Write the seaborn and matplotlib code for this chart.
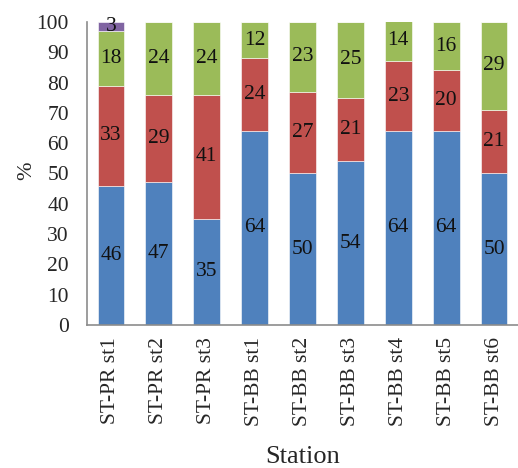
import numpy as np
import pandas as pd
import matplotlib
matplotlib.use("Agg")
import matplotlib.pyplot as plt
import seaborn as sns

# Percentage composition per sampling station
stations = ["ST-PR st1", "ST-PR st2", "ST-PR st3", "ST-BB st1", "ST-BB st2",
            "ST-BB st3", "ST-BB st4", "ST-BB st5", "ST-BB st6"]
blue_vals = [46, 47, 35, 64, 50, 54, 64, 64, 50]
red_vals = [33, 29, 41, 24, 27, 21, 23, 20, 21]
green_vals = [18, 24, 24, 12, 23, 25, 14, 16, 29]
purple_vals = [3, 0, 0, 0, 0, 0, 0, 0, 0]
yticks = [0, 10, 20, 30, 40, 50, 60, 70, 80, 90, 100]

layers = [
    (blue_vals, "#4F81BD"),
    (red_vals, "#C0504D"),
    (green_vals, "#9BBB59"),
    (purple_vals, "#8064A2"),
]

sns.set_theme(style="white")
plt.rcParams["font.family"] = ["Liberation Serif", "DejaVu Serif"]

fig = plt.figure(figsize=(5.18, 4.68), dpi=100)
ax = fig.add_axes([0.168, 0.306, 0.832, 0.647])

bottom = np.zeros(len(stations))
for vals, color in layers:
    vals = np.asarray(vals, dtype=float)
    df = pd.DataFrame({"Station": stations, "value": vals})
    sns.barplot(data=df, x="Station", y="value", color=color, saturation=1,
                width=0.56, bottom=bottom, edgecolor="white", linewidth=0.4,
                ax=ax)
    for i, v in enumerate(vals):
        if v > 0:
            ax.text(i, bottom[i] + v / 2, f"{int(v)}", ha="center",
                    va="center", fontsize=15.5, color="#111111")
    bottom = bottom + vals

ax.set_xlim(-0.5, len(stations) - 0.5)
ax.set_ylim(0, 100)
ax.set_yticks(yticks)
ax.set_yticklabels([str(t) for t in yticks])
ax.tick_params(axis="y", length=0, pad=13, labelsize=15.5)
ax.tick_params(axis="x", length=0, pad=9, labelsize=15.5, rotation=90)

for side in ["top", "right"]:
    ax.spines[side].set_visible(False)
for side in ["left", "bottom"]:
    ax.spines[side].set_color("#8c8c8c")
    ax.spines[side].set_linewidth(1.2)

ax.set_ylabel("%", fontsize=16)
ax.yaxis.set_label_coords(-0.117, 0.51)
ax.set_xlabel("Station", fontsize=19, labelpad=14)

fig.savefig("out.png", dpi=100)
